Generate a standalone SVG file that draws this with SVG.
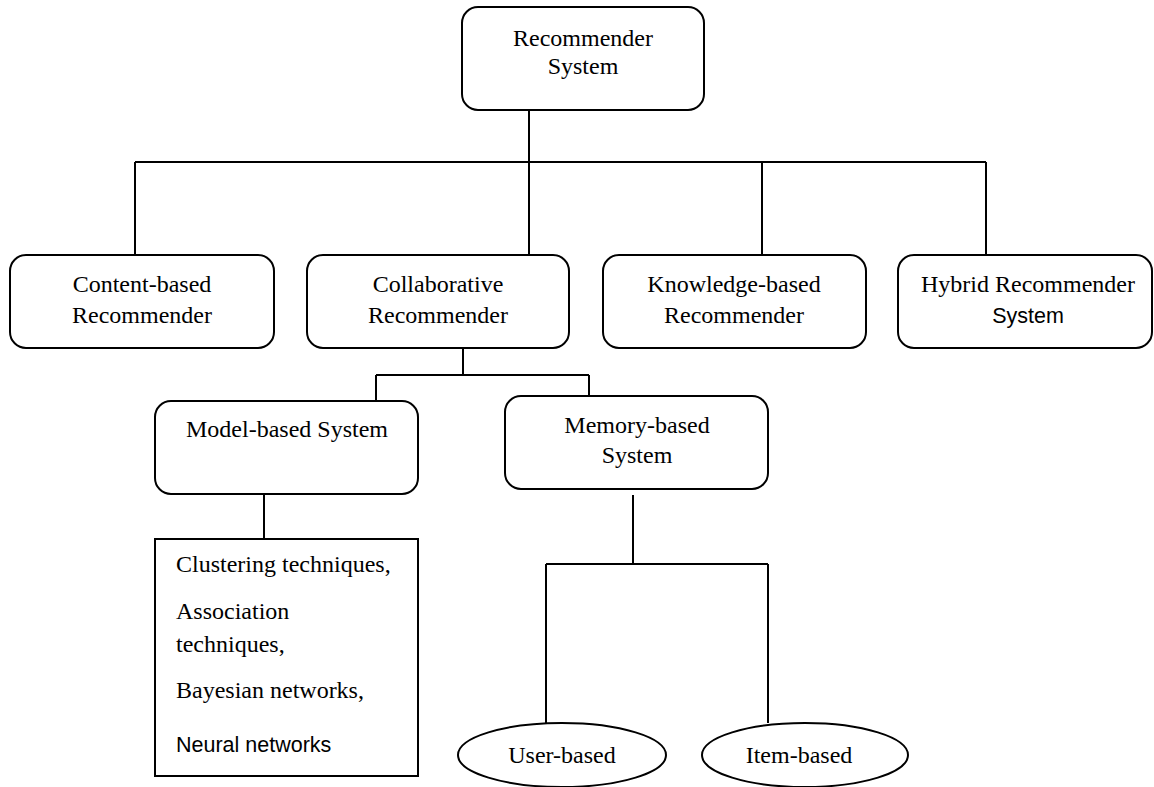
<svg xmlns="http://www.w3.org/2000/svg" width="1154" height="787" viewBox="0 0 1154 787">
<style>
.box{fill:#fff;stroke:#000;stroke-width:2}
.ln{fill:none;stroke:#000;stroke-width:2}
.t{font-family:"Liberation Serif","Times New Roman",serif;font-size:24px;fill:#000}
.c{text-anchor:middle}
.s{font-family:"Liberation Sans",Arial,sans-serif;font-size:21.5px;fill:#000}
</style>
<rect width="1154" height="787" fill="#fff"/>
<g id="connectors">
<path class="ln" d="M529 110V162M135 162H986M135 162V255M529 162V255M762 162V255M986 162V255"/>
<path class="ln" d="M463 348V375M376 375H589M376 375V401M589 375V402"/>
<path class="ln" d="M264 494V539"/>
<path class="ln" d="M633 495V564M546 564H768M546 564V723M768 564V723"/>
</g>
<g id="root">
<rect class="box" x="462" y="7" width="242" height="103" rx="16"/>
<text class="t c" x="583" y="46">Recommender</text>
<text class="t c" x="583" y="74">System</text>
</g>
<g id="content">
<rect class="box" x="10" y="255" width="264" height="93" rx="16"/>
<text class="t c" x="142" y="292">Content-based</text>
<text class="t c" x="142" y="323">Recommender</text>
</g>
<g id="collaborative">
<rect class="box" x="307" y="255" width="262" height="93" rx="16"/>
<text class="t c" x="438" y="292">Collaborative</text>
<text class="t c" x="438" y="323">Recommender</text>
</g>
<g id="knowledge">
<rect class="box" x="603" y="255" width="263" height="93" rx="16"/>
<text class="t c" x="734" y="292">Knowledge-based</text>
<text class="t c" x="734" y="323">Recommender</text>
</g>
<g id="hybrid">
<rect class="box" x="898" y="255" width="254" height="93" rx="16"/>
<text class="t c" x="1028" y="292">Hybrid Recommender</text>
<text class="s c" x="1028" y="323">System</text>
</g>
<g id="model">
<rect class="box" x="155" y="401" width="263" height="93" rx="16"/>
<text class="t c" x="287" y="437">Model-based System</text>
</g>
<g id="memory">
<rect class="box" x="505" y="396" width="263" height="93" rx="16"/>
<text class="t c" x="637" y="433">Memory-based</text>
<text class="t c" x="637" y="463">System</text>
</g>
<g id="techniques">
<rect class="box" x="155" y="539" width="263" height="237"/>
<text class="t" x="176" y="572">Clustering techniques,</text>
<text class="t" x="176" y="619">Association</text>
<text class="t" x="176" y="652">techniques,</text>
<text class="t" x="176" y="698">Bayesian networks,</text>
<text class="s" x="176" y="752">Neural networks</text>
</g>
<g id="user">
<ellipse class="box" cx="562" cy="755" rx="104" ry="32"/>
<text class="t c" x="562" y="763">User-based</text>
</g>
<g id="item">
<ellipse class="box" cx="805" cy="755" rx="103" ry="32"/>
<text class="t c" x="799" y="763">Item-based</text>
</g>
</svg>
